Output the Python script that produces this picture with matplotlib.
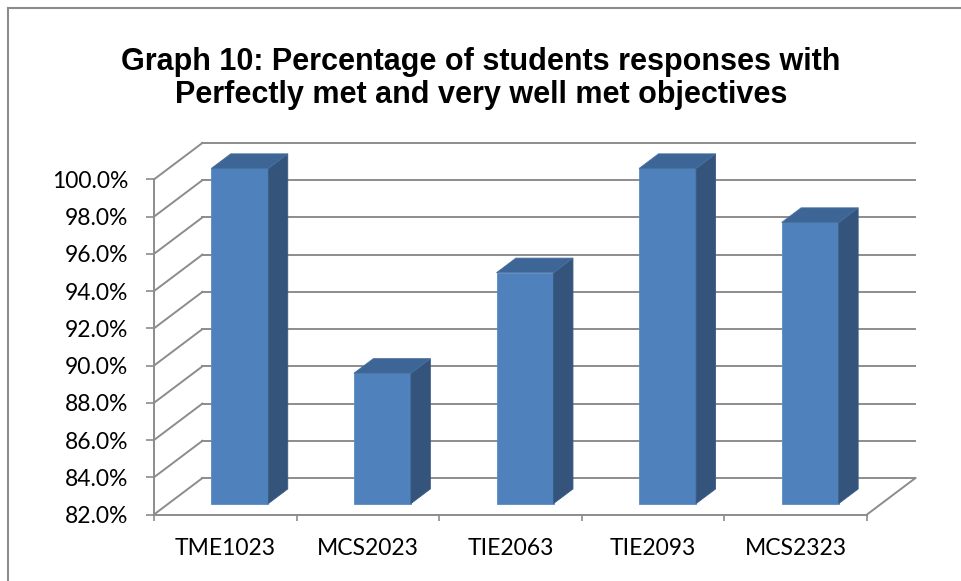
import matplotlib
matplotlib.use('Agg')
import matplotlib.pyplot as plt
from matplotlib.patches import Polygon
from matplotlib.lines import Line2D
from matplotlib.ticker import FixedLocator

# Datos
cursos = ['TME1023', 'MCS2023', 'TIE2063', 'TIE2093', 'MCS2323']
porcentajes = [100.0, 89.0, 94.4, 100.0, 97.1]
marcas_y = [82, 84, 86, 88, 90, 92, 94, 96, 98, 100]
etiquetas_y = ['82.0%', '84.0%', '86.0%', '88.0%', '90.0%', '92.0%', '94.0%', '96.0%', '98.0%', '100.0%']
titulo = 'Graph 10: Percentage of students responses with\nPerfectly met and very well met objectives'

# Perspectiva oblicua (profundidad del grafico 3D)
DX = 0.34
DY = 1.96
BASE = marcas_y[0]
TOPE = marcas_y[-1]
GRIS = '#8c8c8c'


def proy(x, v, z):
    return (x + z * DX, v + z * DY)


fig = plt.figure(figsize=(9.61, 5.81), dpi=100)
ax = fig.add_axes([154 / 961, 66.5 / 581, 5.34 * 142.6 / 961, 371.6 / 581])
ax.set_xlim(0, len(cursos) + DX)
ax.set_ylim(BASE, TOPE + DY)

# Paredes y lineas de cuadricula
for v in marcas_y:
    ax.add_line(Line2D([0, DX], [v, v + DY], color=GRIS, lw=1.4, clip_on=False))
    ax.add_line(Line2D([DX, len(cursos) + DX], [v + DY, v + DY], color=GRIS, lw=1.4, clip_on=False))
# borde derecho del piso
ax.add_line(Line2D([len(cursos), len(cursos) + DX], [BASE, BASE + DY], color=GRIS, lw=1.4, clip_on=False))

# Barras 3D: cara frontal, lateral y superior
for i, v in enumerate(porcentajes):
    x0, x1 = i + 0.3, i + 0.7
    z0, z1 = 0.3, 0.7
    frente = [proy(x0, BASE, z0), proy(x1, BASE, z0), proy(x1, v, z0), proy(x0, v, z0)]
    lado = [proy(x1, BASE, z0), proy(x1, BASE, z1), proy(x1, v, z1), proy(x1, v, z0)]
    arriba = [proy(x0, v, z0), proy(x1, v, z0), proy(x1, v, z1), proy(x0, v, z1)]
    ax.add_patch(Polygon(frente, closed=True, facecolor='#4f81bd', edgecolor='#5a8ac4', lw=0.6, zorder=3))
    ax.add_patch(Polygon(lado, closed=True, facecolor='#34547b', edgecolor='#3a5b84', lw=0.6, zorder=3))
    ax.add_patch(Polygon(arriba, closed=True, facecolor='#3d6596', edgecolor='#46709f', lw=0.6, zorder=3))

# Ejes
for s in ['top', 'right']:
    ax.spines[s].set_visible(False)
ax.spines['left'].set_bounds(BASE, TOPE)
ax.spines['bottom'].set_bounds(0, len(cursos))
for s in ['left', 'bottom']:
    ax.spines[s].set_color(GRIS)
    ax.spines[s].set_linewidth(1.4)
    ax.spines[s].set_zorder(2)

ax.set_yticks(marcas_y)
ax.set_yticklabels(etiquetas_y, fontsize=16.5, fontfamily='Lato')
ax.tick_params(axis='y', direction='out', length=5.5, width=1.2, color=GRIS, pad=13)

ax.set_xticks([i + 0.5 for i in range(len(cursos))])
ax.set_xticklabels(cursos, fontsize=16.5, fontfamily='Lato')
ax.xaxis.set_minor_locator(FixedLocator(list(range(len(cursos) + 1))))
ax.tick_params(axis='x', which='major', length=0, pad=17)
ax.tick_params(axis='x', which='minor', direction='out', length=4, width=1.2, color=GRIS)

fig.text(481 / 961, 1 - 78.5 / 581, titulo, ha='center', va='center', fontsize=22,
         fontweight='bold', fontfamily='Liberation Sans', linespacing=1.13)

# Marco del area del grafico
fig.add_artist(Line2D([7.5 / 961, 7.5 / 961], [0, 1 - 7.5 / 581], transform=fig.transFigure, color=GRIS, lw=1.5))
fig.add_artist(Line2D([7.5 / 961, 1], [1 - 7.5 / 581, 1 - 7.5 / 581], transform=fig.transFigure, color=GRIS, lw=1.5))

fig.savefig('out.png', dpi=100)
